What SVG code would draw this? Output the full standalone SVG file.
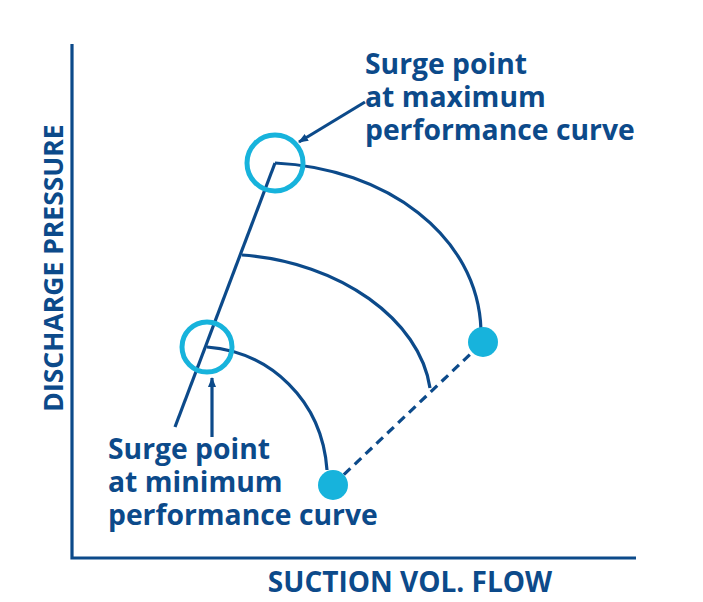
<svg xmlns="http://www.w3.org/2000/svg" width="703" height="602" viewBox="0 0 703 602">
<defs>
<style>
.ln{fill:none;stroke:#0c4a8a;stroke-width:3.2}
.ring{fill:none;stroke:#17b3dc;stroke-width:5}
.dot{fill:#17b3dc}
.t{font-family:"Open Sans","Noto Sans",sans-serif;font-weight:bold;font-size:28.3px;fill:#0c4a8a}
.ax{font-family:"Open Sans","Noto Sans",sans-serif;font-weight:bold;font-size:28px;fill:#0c4a8a}
</style>
<marker id="ah" viewBox="0 0 10 10" refX="9" refY="5" markerWidth="10" markerHeight="10" markerUnits="userSpaceOnUse" orient="auto">
<path d="M0,1 L10,5 L0,9 Z" fill="#0c4a8a"/>
</marker>
</defs>
<g id="axes">
<path class="ln" d="M72,44 V558 H636"/>
<text class="ax" x="410" y="592" text-anchor="middle">SUCTION VOL. FLOW</text>
<text class="ax" transform="translate(63,268) rotate(-90)" text-anchor="middle" style="font-size:26.5px">DISCHARGE PRESSURE</text>
</g>
<g id="connectors">
<path class="ln" d="M175,427 L275,163"/>
<path class="ln" d="M275,163 C385,168 478,235 481,330"/>
<path class="ln" d="M242,255 C340,262 420,320 430,388"/>
<path class="ln" d="M207,347 C270,352 322,400 327,470"/>
<path class="ln" d="M333,485 L483,342" stroke-dasharray="9,6"/>
<path class="ln" stroke-width="2" d="M365,102 L299,142" marker-end="url(#ah)"/>
<path class="ln" stroke-width="2" d="M212,437 V378" marker-end="url(#ah)"/>
</g>
<g id="surge-max">
<circle class="ring" cx="275" cy="163" r="28"/>
</g>
<g id="surge-min">
<circle class="ring" cx="207" cy="347" r="25"/>
</g>
<g id="end-max">
<circle class="dot" cx="483" cy="342" r="15"/>
</g>
<g id="end-min">
<circle class="dot" cx="333" cy="485" r="15"/>
</g>
<g id="label-max">
<text class="t"><tspan x="365" y="74">Surge point</tspan><tspan x="365" y="107">at maximum</tspan><tspan x="365" y="140">performance curve</tspan></text>
</g>
<g id="label-min">
<text class="t"><tspan x="108" y="459">Surge point</tspan><tspan x="108" y="492">at minimum</tspan><tspan x="108" y="525">performance curve</tspan></text>
</g>
</svg>
